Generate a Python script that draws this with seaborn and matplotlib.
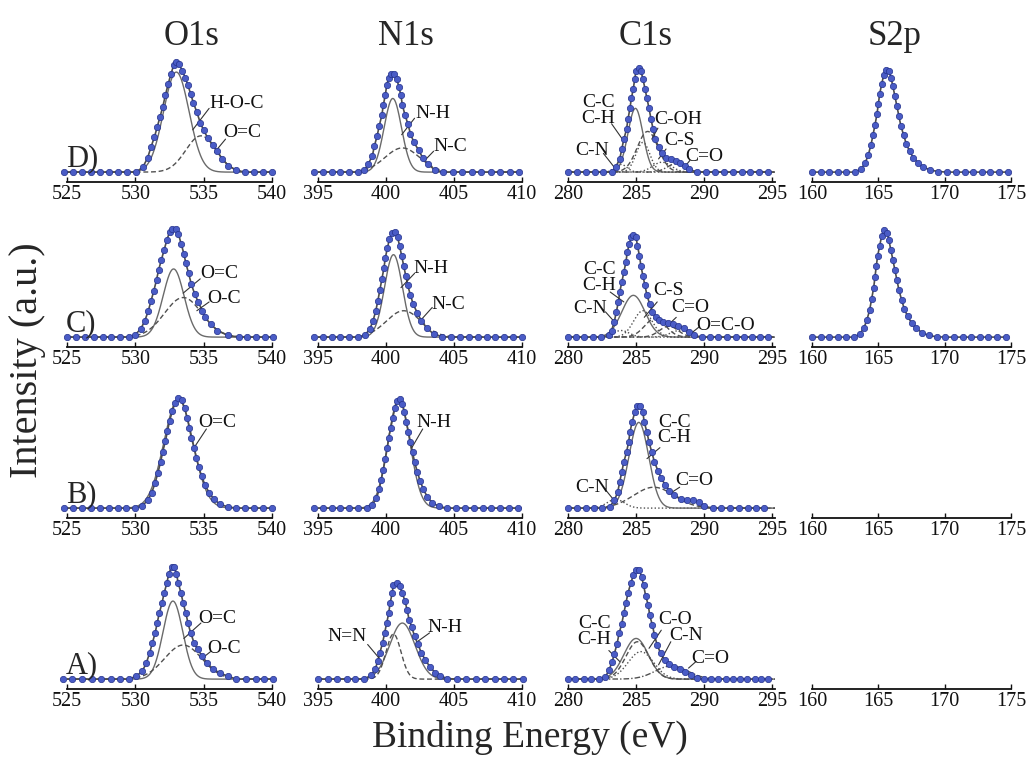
import numpy as np
import pandas as pd
import matplotlib
matplotlib.use("Agg")
import matplotlib.pyplot as plt
import seaborn as sns

# ------------------------------------------------------------------ data
COLUMNS = ["O1s", "N1s", "C1s", "S2p"]
ROWS = ["D)", "C)", "B)", "A)"]
XLIMS = {"O1s": (525, 540), "N1s": (395, 410), "C1s": (280, 295.2), "S2p": (160, 175)}
XTICKS = {"O1s": [525, 530, 535, 540], "N1s": [395, 400, 405, 410],
          "C1s": [280, 285, 290, 295], "S2p": [160, 165, 170, 175]}

# measured spectra (dots) : binding energy (eV) and normalised intensity
D_O1S_X = [524.8, 525.45, 526.1, 526.75, 527.4, 528.1, 528.75, 529.4, 530.05,
           530.55, 530.9, 531.15, 531.4, 531.6, 531.8, 532.0, 532.2, 532.4, 532.6, 532.8, 532.98,
           533.2, 533.45, 533.65, 533.85, 534.05, 534.25, 534.5, 534.75, 535.0, 535.3, 535.65,
           536.0, 536.35, 536.8, 537.4,
           538.05, 538.7, 539.35, 540.0]
D_O1S_Y = [0, 0, 0, 0, 0, 0, 0, 0, 0,
           0.045, 0.13, 0.23, 0.32, 0.41, 0.50, 0.59, 0.70, 0.80, 0.89, 0.97, 1.0,
           0.98, 0.92, 0.86, 0.79, 0.71, 0.63, 0.545, 0.45, 0.38, 0.31, 0.25,
           0.19, 0.12, 0.06, 0.015,
           0, 0, 0, 0]

D_N1S_X = [394.7, 395.35, 396.0, 396.65, 397.3, 397.95,
           398.4, 398.7, 399.0, 399.15, 399.35, 399.5, 399.7, 399.8, 399.95, 400.05, 400.2, 400.4,
           400.6, 400.8, 400.95, 401.1, 401.2, 401.4, 401.6, 401.8, 402.05, 402.4, 402.7, 403.1, 403.6,
           404.2, 404.9, 405.6, 406.3, 407.0, 407.7, 408.4, 409.1, 409.8]
D_N1S_Y = [0, 0, 0, 0, 0, 0,
           0.015, 0.075, 0.15, 0.24, 0.33, 0.42, 0.52, 0.61, 0.70, 0.79, 0.86, 0.89,
           0.89, 0.85, 0.77, 0.70, 0.61, 0.52, 0.44, 0.35, 0.27, 0.20, 0.13, 0.07, 0.02,
           0, 0, 0, 0, 0, 0, 0, 0, 0]

D_C1S_X = [280.0, 280.65, 281.3, 281.95, 282.6, 283.2,
           283.5, 283.8, 283.95, 284.1, 284.3, 284.4, 284.55, 284.65, 284.8, 284.9, 285.0, 285.2,
           285.35, 285.5, 285.65, 285.8, 285.95, 286.1, 286.25, 286.4, 286.65, 286.9, 287.2, 287.55,
           287.9, 288.2, 288.6, 288.9,
           289.5, 290.15, 290.8, 291.45, 292.1, 292.75, 293.4, 294.05, 294.7]
D_C1S_Y = [0, 0, 0, 0, 0, 0,
           0.045, 0.12, 0.21, 0.30, 0.39, 0.48, 0.58, 0.67, 0.76, 0.85, 0.92, 0.95,
           0.92, 0.85, 0.76, 0.67, 0.58, 0.48, 0.39, 0.30, 0.23, 0.17, 0.13, 0.115,
           0.105, 0.085, 0.055, 0.024,
           0, 0, 0, 0, 0, 0, 0, 0, 0]

D_S2P_X = [160.0, 160.65, 161.3, 161.95, 162.6, 163.25,
           163.7, 164.0, 164.25, 164.45, 164.6, 164.75, 164.9, 165.0, 165.1, 165.25, 165.4, 165.6,
           165.8, 165.95, 166.1, 166.25, 166.4, 166.55, 166.7, 166.9, 167.1, 167.35, 167.65, 168.0,
           168.4, 168.9, 169.5,
           170.2, 170.85, 171.5, 172.15, 172.8, 173.45, 174.1, 174.75]
D_S2P_Y = [0, 0, 0, 0, 0, 0,
           0.03, 0.08, 0.16, 0.25, 0.34, 0.43, 0.53, 0.62, 0.71, 0.80, 0.88, 0.93,
           0.92, 0.86, 0.78, 0.69, 0.60, 0.51, 0.42, 0.34, 0.26, 0.19, 0.13, 0.08,
           0.045, 0.02, 0.005,
           0, 0, 0, 0, 0, 0, 0, 0]

C_O1S_X = [525.0, 525.65, 526.3, 526.95, 527.6, 528.25, 528.9, 529.5,
           529.95, 530.4, 530.7, 530.95, 531.15, 531.35, 531.55, 531.7, 531.9, 532.1, 532.3, 532.5,
           532.7, 532.95, 533.15, 533.35, 533.55, 533.7, 533.9, 534.1, 534.35, 534.6, 534.9, 535.1,
           535.5, 536.0, 536.8,
           537.6, 538.2, 538.85, 539.5, 540.1]
C_O1S_Y = [0, 0, 0, 0, 0, 0, 0, 0,
           0.015, 0.076, 0.15, 0.24, 0.33, 0.42, 0.52, 0.61, 0.70, 0.79, 0.88, 0.955,
           0.985, 0.985, 0.94, 0.85, 0.76, 0.67, 0.58, 0.48, 0.39, 0.32, 0.24, 0.18,
           0.12, 0.06, 0.015,
           0, 0, 0, 0, 0]

C_N1S_X = [394.7, 395.35, 396.0, 396.65, 397.3, 397.95,
           398.45, 398.8, 399.05, 399.25, 399.4, 399.55, 399.7, 399.85, 399.95, 400.1, 400.25, 400.45,
           400.65, 400.85, 401.0, 401.15, 401.3, 401.45, 401.6, 401.8, 402.0, 402.3, 402.6, 403.0,
           403.5, 404.1,
           404.8, 405.45, 406.1, 406.75, 407.4, 408.05, 408.7, 409.35, 410.0]
C_N1S_Y = [0, 0, 0, 0, 0, 0,
           0.02, 0.07, 0.15, 0.24, 0.33, 0.43, 0.53, 0.63, 0.72, 0.81, 0.89, 0.95,
           0.96, 0.91, 0.83, 0.74, 0.65, 0.56, 0.47, 0.38, 0.30, 0.22, 0.15, 0.08,
           0.03, 0.005,
           0, 0, 0, 0, 0, 0, 0, 0, 0]

C_C1S_X = [280.0, 280.6, 281.2, 281.8, 282.4,
           283.0, 283.2, 283.4, 283.55, 283.7, 283.8, 283.95, 284.1, 284.25, 284.35, 284.5, 284.65,
           284.8, 285.0, 285.1, 285.25, 285.35, 285.5, 285.65, 285.8, 286.0, 286.2, 286.45, 286.7,
           287.0, 287.35, 287.7, 288.05, 288.5, 288.9, 289.25,
           289.85, 290.45, 291.05, 291.7, 292.3, 292.9, 293.5, 294.1, 294.7]
C_C1S_Y = [0, 0, 0, 0, 0,
           0.015, 0.06, 0.14, 0.23, 0.32, 0.41, 0.50, 0.59, 0.68, 0.77, 0.85, 0.91,
           0.93, 0.91, 0.83, 0.74, 0.65, 0.56, 0.47, 0.38, 0.30, 0.23, 0.18, 0.16,
           0.14, 0.13, 0.12, 0.105, 0.08, 0.05, 0.015,
           0, 0, 0, 0, 0, 0, 0, 0, 0]

C_S2P_X = [160.0, 160.65, 161.3, 161.95, 162.6, 163.2,
           163.6, 163.9, 164.15, 164.35, 164.5, 164.65, 164.75, 164.85, 164.95, 165.1, 165.25, 165.45,
           165.65, 165.8, 165.95, 166.1, 166.25, 166.4, 166.55, 166.75, 166.95, 167.2, 167.5, 167.85,
           168.3, 168.8, 169.4,
           170.05, 170.7, 171.35, 172.0, 172.65, 173.3, 173.95, 174.6]
C_S2P_Y = [0, 0, 0, 0, 0, 0,
           0.03, 0.08, 0.16, 0.25, 0.35, 0.45, 0.55, 0.65, 0.74, 0.83, 0.92, 0.97,
           0.95, 0.88, 0.79, 0.70, 0.61, 0.52, 0.43, 0.34, 0.26, 0.19, 0.13, 0.08,
           0.04, 0.015, 0.003,
           0, 0, 0, 0, 0, 0, 0, 0]

B_O1S_X = [524.8, 525.45, 526.1, 526.75, 527.4, 528.05, 528.7, 529.35, 530.0,
           530.5, 530.9, 531.2, 531.45, 531.65, 531.85, 532.0, 532.2, 532.35, 532.5, 532.7, 532.9,
           533.15, 533.4, 533.6, 533.8, 533.95, 534.1, 534.3, 534.45, 534.65, 534.85, 535.1, 535.4,
           535.75, 536.2, 536.8,
           537.4, 538.05, 538.7, 539.35, 540.0]
B_O1S_Y = [0, 0, 0, 0, 0, 0, 0, 0, 0,
           0.02, 0.07, 0.14, 0.23, 0.32, 0.42, 0.51, 0.61, 0.70, 0.79, 0.88, 0.96,
           1.0, 0.98, 0.91, 0.82, 0.73, 0.64, 0.55, 0.46, 0.37, 0.29, 0.21, 0.14,
           0.08, 0.035, 0.01,
           0, 0, 0, 0, 0]

B_N1S_X = [394.7, 395.35, 396.0, 396.65, 397.3, 397.95, 398.6,
           399.0, 399.3, 399.5, 399.65, 399.8, 399.95, 400.1, 400.2, 400.35, 400.5, 400.65, 400.8,
           401.0, 401.2, 401.35, 401.5, 401.65, 401.8, 401.95, 402.1, 402.3, 402.5, 402.75, 403.05,
           403.4, 403.9,
           404.5, 405.15, 405.8, 406.45, 407.1, 407.75, 408.4, 409.05, 409.7]
B_N1S_Y = [0, 0, 0, 0, 0, 0, 0,
           0.03, 0.09, 0.17, 0.26, 0.35, 0.45, 0.55, 0.64, 0.73, 0.82, 0.91, 0.97,
           0.99, 0.95, 0.87, 0.78, 0.69, 0.60, 0.51, 0.42, 0.33, 0.25, 0.17, 0.10,
           0.05, 0.015,
           0, 0, 0, 0, 0, 0, 0, 0, 0]

B_C1S_X = [280.0, 280.65, 281.3, 281.9, 282.5,
           283.05, 283.4, 283.65, 283.8, 283.95, 284.1, 284.3, 284.45, 284.55, 284.7, 284.9, 285.1,
           285.3, 285.5, 285.6, 285.8, 285.95, 286.15, 286.35, 286.6, 286.85, 287.15, 287.45, 287.8,
           288.3, 288.75, 289.2, 289.6, 290.0,
           290.65, 291.25, 291.9, 292.55, 293.2, 293.8, 294.4]
B_C1S_Y = [0, 0, 0, 0, 0,
           0.01, 0.07, 0.145, 0.24, 0.33, 0.42, 0.51, 0.60, 0.69, 0.78, 0.87, 0.93,
           0.93, 0.87, 0.78, 0.69, 0.60, 0.51, 0.42, 0.34, 0.27, 0.21, 0.16, 0.115,
           0.085, 0.07, 0.07, 0.055, 0.015,
           0, 0, 0, 0, 0, 0, 0]

A_O1S_X = [524.7, 525.4, 526.1, 526.8, 527.5, 528.2, 528.85, 529.5,
           530.05, 530.5, 530.8, 531.05, 531.25, 531.45, 531.6, 531.75, 531.95, 532.1, 532.3, 532.45,
           532.65, 532.85, 533.0, 533.15, 533.35, 533.5, 533.7, 533.85, 534.05, 534.3, 534.55, 534.9,
           535.25, 535.7, 536.2, 536.8,
           537.4, 538.1, 538.8, 539.45, 540.1]
A_O1S_Y = [0, 0, 0, 0, 0, 0, 0, 0,
           0.025, 0.07, 0.145, 0.24, 0.33, 0.42, 0.51, 0.60, 0.69, 0.78, 0.87, 0.96,
           1.02, 1.02, 0.96, 0.87, 0.78, 0.69, 0.60, 0.51, 0.42, 0.33, 0.27, 0.21,
           0.145, 0.09, 0.055, 0.025,
           0, 0, 0, 0, 0]

A_N1S_X = [395.0, 395.7, 396.4, 397.1, 397.7, 398.4,
           398.9, 399.2, 399.4, 399.55, 399.75, 399.9, 400.05, 400.2, 400.3, 400.45, 400.55, 400.8,
           401.0, 401.2, 401.4, 401.55, 401.7, 401.9, 402.1, 402.35, 402.6, 402.9, 403.25, 403.6,
           404.0, 404.5,
           405.2, 405.9, 406.6, 407.3, 408.0, 408.7, 409.35, 410.05]
A_N1S_Y = [0, 0, 0, 0, 0, 0,
           0.035, 0.09, 0.165, 0.24, 0.33, 0.42, 0.51, 0.60, 0.69, 0.78, 0.86, 0.875,
           0.845, 0.78, 0.71, 0.63, 0.54, 0.47, 0.39, 0.315, 0.24, 0.17, 0.11, 0.06,
           0.03, 0.005,
           0, 0, 0, 0, 0, 0, 0, 0]

A_C1S_X = [280.0, 280.55, 281.15, 281.7, 282.25,
           282.75, 283.0, 283.25, 283.4, 283.6, 283.75, 283.95, 284.1, 284.25, 284.4, 284.6, 284.8,
           285.0, 285.25, 285.4, 285.55, 285.7, 285.9, 286.0, 286.2, 286.35, 286.55, 286.8, 287.1,
           287.4, 287.8, 288.2, 288.6, 289.0, 289.5,
           290.0, 290.5, 291.05, 291.6, 292.1, 292.65, 293.15, 293.7, 294.2, 294.7]
A_C1S_Y = [0, 0, 0, 0, 0,
           0.02, 0.08, 0.16, 0.23, 0.32, 0.415, 0.505, 0.60, 0.69, 0.78, 0.87, 0.945,
           0.99, 0.99, 0.93, 0.855, 0.76, 0.67, 0.58, 0.49, 0.40, 0.31, 0.235, 0.17,
           0.135, 0.11, 0.09, 0.065, 0.035, 0.012,
           0, 0, 0, 0, 0, 0, 0, 0, 0, 0]

# fitted components : centre (eV), height, FWHM (eV)
D_O1S_CEN, D_O1S_AMP, D_O1S_FWHM = [533.0, 534.8], [0.91, 0.33], [2.2, 2.6]
D_N1S_CEN, D_N1S_AMP, D_N1S_FWHM = [400.5, 401.2], [0.67, 0.22], [1.5, 3.0]
D_C1S_CEN = [283.9, 284.95, 285.5, 285.85, 286.9, 288.0]
D_C1S_AMP = [0.07, 0.58, 0.27, 0.37, 0.09, 0.08]
D_C1S_FWHM = [1.0, 1.3, 1.2, 1.8, 1.6, 1.6]
C_O1S_CEN, C_O1S_AMP, C_O1S_FWHM = [532.8, 533.5], [0.62, 0.36], [1.8, 3.2]
C_N1S_CEN, C_N1S_AMP, C_N1S_FWHM = [400.55, 401.3], [0.75, 0.24], [1.55, 3.0]
C_C1S_CEN = [283.9, 284.8, 285.5, 286.4, 287.4, 288.2]
C_C1S_AMP = [0.06, 0.38, 0.24, 0.17, 0.10, 0.06]
C_C1S_FWHM = [1.4, 2.0, 1.6, 1.8, 1.6, 1.6]
B_O1S_CEN, B_O1S_AMP, B_O1S_FWHM = [533.15], [0.99], [2.5]
B_N1S_CEN, B_N1S_AMP, B_N1S_FWHM = [400.95], [0.99], [1.9]
B_C1S_CEN, B_C1S_AMP, B_C1S_FWHM = [283.5, 285.2, 286.3], [0.08, 0.78, 0.19], [1.5, 1.7, 3.5]
A_O1S_CEN, A_O1S_AMP, A_O1S_FWHM = [532.75, 533.5], [0.71, 0.31], [1.7, 3.2]
A_N1S_CEN, A_N1S_AMP, A_N1S_FWHM = [401.2, 400.55], [0.51, 0.41], [2.2, 1.3]
A_C1S_CEN, A_C1S_AMP, A_C1S_FWHM = [285.0, 285.1, 285.35, 287.6], [0.37, 0.34, 0.25, 0.12], [2.1, 2.0, 2.2, 2.8]

# ------------------------------------------------------------------ styles / layout
LS = {"-": "-", "--": (0, (3.5, 2.0)), ":": (0, (1.0, 1.6)), "-.": (0, (4, 1.5, 1, 1.5))}
COMP_STYLE = {
    "D_O1S": ["-", "--"], "D_N1S": ["-", "--"], "D_C1S": [":", "-", ":", "--", ":", "-."],
    "C_O1S": ["-", "--"], "C_N1S": ["-", "--"], "C_C1S": [":", "-", ":", "--", "--", ":"],
    "B_O1S": ["-"], "B_N1S": ["-"], "B_C1S": [":", "-", "--"],
    "A_O1S": ["-", "--"], "A_N1S": ["-", "--"], "A_C1S": ["-", "--", ":", "-."],
}
# (text, text x, text y, leader start x, y, leader end x, y)
LABELS = {
    "D_O1S": [("H-O-C", 537.4, 0.62, 535.4, 0.58, 534.2, 0.385),
              ("O=C", 537.8, 0.36, 536.6, 0.30, 535.8, 0.18)],
    "D_N1S": [("N-H", 403.45, 0.53, 402.1, 0.49, 401.15, 0.34),
              ("N-C", 404.75, 0.23, 403.5, 0.19, 402.8, 0.10)],
    "D_C1S": [("C-C\nC-H", 282.25, 0.56, 283.2, 0.44, 284.05, 0.29),
              ("C-N", 281.75, 0.20, 282.6, 0.17, 283.45, 0.036),
              ("C-OH", 288.1, 0.48, 286.6, 0.40, 286.15, 0.30),
              ("C-S", 288.2, 0.29, 287.2, 0.21, 286.65, 0.12),
              ("C=O", 290.0, 0.14, 288.95, 0.106, 288.65, 0.06)],
    "C_O1S": [("O=C", 536.15, 0.575, 534.75, 0.53, 533.5, 0.40),
              ("O-C", 536.5, 0.35, 535.4, 0.32, 534.5, 0.24)],
    "C_N1S": [("N-H", 403.3, 0.62, 402.1, 0.58, 401.1, 0.45),
              ("N-C", 404.6, 0.30, 403.4, 0.27, 402.6, 0.16)],
    "C_C1S": [("C-C\nC-H", 282.3, 0.545, 283.1, 0.41, 284.1, 0.32),
              ("C-N", 281.6, 0.26, 282.75, 0.23, 283.4, 0.14),
              ("C-S", 287.35, 0.42, 286.55, 0.32, 285.6, 0.18),
              ("C=O", 289.0, 0.27, 287.95, 0.18, 287.35, 0.11),
              ("O=C-O", 291.6, 0.106, 289.6, 0.09, 289.0, 0.03)],
    "B_O1S": [("O=C", 536.0, 0.78, 535.2, 0.72, 534.3, 0.55)],
    "B_N1S": [("N-H", 403.5, 0.78, 402.7, 0.72, 401.9, 0.55)],
    "B_C1S": [("C-C\nC-H", 287.8, 0.71, 286.75, 0.55, 285.8, 0.45),
              ("C-N", 281.75, 0.19, 282.8, 0.16, 283.35, 0.076),
              ("C=O", 289.25, 0.25, 288.2, 0.19, 287.45, 0.13)],
    "A_O1S": [("O=C", 536.0, 0.555, 534.8, 0.51, 533.55, 0.37),
              ("O-C", 536.5, 0.28, 535.5, 0.25, 534.9, 0.19)],
    "A_N1S": [("N-H", 404.35, 0.47, 403.2, 0.42, 402.35, 0.345),
              ("N=N", 397.1, 0.39, 398.65, 0.315, 399.5, 0.19)],
    "A_C1S": [("C-C\nC-H", 281.95, 0.43, 283.0, 0.26, 283.8, 0.16),
              ("C-O", 287.85, 0.545, 286.85, 0.445, 285.95, 0.28),
              ("C-N", 288.7, 0.40, 287.55, 0.34, 286.65, 0.13),
              ("C=O", 290.45, 0.19, 289.4, 0.16, 288.85, 0.10)],
}

PANELS = {
    ("D)", "O1s"): ("D_O1S", D_O1S_X, D_O1S_Y, D_O1S_CEN, D_O1S_AMP, D_O1S_FWHM),
    ("D)", "N1s"): ("D_N1S", D_N1S_X, D_N1S_Y, D_N1S_CEN, D_N1S_AMP, D_N1S_FWHM),
    ("D)", "C1s"): ("D_C1S", D_C1S_X, D_C1S_Y, D_C1S_CEN, D_C1S_AMP, D_C1S_FWHM),
    ("D)", "S2p"): ("D_S2P", D_S2P_X, D_S2P_Y, [], [], []),
    ("C)", "O1s"): ("C_O1S", C_O1S_X, C_O1S_Y, C_O1S_CEN, C_O1S_AMP, C_O1S_FWHM),
    ("C)", "N1s"): ("C_N1S", C_N1S_X, C_N1S_Y, C_N1S_CEN, C_N1S_AMP, C_N1S_FWHM),
    ("C)", "C1s"): ("C_C1S", C_C1S_X, C_C1S_Y, C_C1S_CEN, C_C1S_AMP, C_C1S_FWHM),
    ("C)", "S2p"): ("C_S2P", C_S2P_X, C_S2P_Y, [], [], []),
    ("B)", "O1s"): ("B_O1S", B_O1S_X, B_O1S_Y, B_O1S_CEN, B_O1S_AMP, B_O1S_FWHM),
    ("B)", "N1s"): ("B_N1S", B_N1S_X, B_N1S_Y, B_N1S_CEN, B_N1S_AMP, B_N1S_FWHM),
    ("B)", "C1s"): ("B_C1S", B_C1S_X, B_C1S_Y, B_C1S_CEN, B_C1S_AMP, B_C1S_FWHM),
    ("A)", "O1s"): ("A_O1S", A_O1S_X, A_O1S_Y, A_O1S_CEN, A_O1S_AMP, A_O1S_FWHM),
    ("A)", "N1s"): ("A_N1S", A_N1S_X, A_N1S_Y, A_N1S_CEN, A_N1S_AMP, A_N1S_FWHM),
    ("A)", "C1s"): ("A_C1S", A_C1S_X, A_C1S_Y, A_C1S_CEN, A_C1S_AMP, A_C1S_FWHM),
}

# ------------------------------------------------------------------ figure
sns.set_theme(style="white")
plt.rcParams["font.family"] = ["Liberation Serif", "DejaVu Serif"]

W, H = 1031, 759
fig = plt.figure(figsize=(W / 100, H / 100), dpi=100)
fig.patch.set_facecolor("white")

COL_LEFT = {"O1s": 67, "N1s": 318, "C1s": 568, "S2p": 812}
COL_W = {"O1s": 205, "N1s": 204, "C1s": 207, "S2p": 199}
ROW_SPINE = {"D)": 182, "C)": 347, "B)": 518, "A)": 689}
YMIN, YMAX = -0.09, 1.12
AX_H = 133
TITLE_X = {"O1s": 192, "N1s": 406, "C1s": 646, "S2p": 895}

for row in ROWS:
    for col in COLUMNS:
        ax = fig.add_axes([COL_LEFT[col] / W, 1 - ROW_SPINE[row] / H,
                           COL_W[col] / W, AX_H / H])
        ax.set_facecolor("none")
        xlim = XLIMS[col]
        key = (row, col)
        if key in PANELS:
            name, xs, ys, cen, amp, fw = PANELS[key]
            grid = np.linspace(xlim[0], xlim[1], 600)
            for c, a, w, st in zip(cen, amp, fw, COMP_STYLE.get(name, [])):
                g = a * np.exp(-4 * np.log(2) * (grid - c) ** 2 / w ** 2)
                colr = "#6a6a6a" if st == "-" else "#505050"
                ax.plot(grid, g, color=colr, lw=1.0, ls=LS[st], zorder=2)
            df = pd.DataFrame({"eV": xs, "I": ys})
            sns.lineplot(data=df, x="eV", y="I", ax=ax, color="#4d4d4d", lw=1.2,
                         estimator=None, sort=False, zorder=3)
            sns.scatterplot(data=df, x="eV", y="I", ax=ax, s=21, color="#4a5cc6",
                            edgecolor="#25338c", linewidth=0.5, zorder=5, clip_on=False)
            for (txt, tx, ty, x0, y0, x1, y1) in LABELS.get(name, []):
                ax.plot([x0, x1], [y0, y1], color="#333333", lw=0.8, zorder=4)
                ax.text(tx, ty, txt, ha="center", va="center", fontsize=14,
                        linespacing=0.9, color="#111111", zorder=6)
        ax.set_xlim(*xlim)
        ax.set_ylim(YMIN, YMAX)
        ax.set_xlabel("")
        ax.set_ylabel("")
        ax.set_xticks(XTICKS[col])
        ax.set_xticklabels([str(t) for t in XTICKS[col]])
        ax.set_yticks([])
        for s in ["top", "left", "right"]:
            ax.spines[s].set_visible(False)
        ax.spines["bottom"].set_linewidth(1.3)
        ax.spines["bottom"].set_color("#111111")
        ax.tick_params(axis="x", bottom=True, direction="in", length=3.5, width=1.0,
                       labelsize=14.5, pad=2, colors="#111111")
        ax.tick_params(axis="y", left=False, labelleft=False)

# column titles
for col in COLUMNS:
    fig.text(TITLE_X[col] / W, 1 - 45 / H, col, fontsize=25, ha="center", va="baseline")

# row labels
for row in ROWS:
    fig.text(66 / W, 1 - (ROW_SPINE[row] - 16) / H, row, fontsize=22, ha="left", va="baseline")

fig.text(28 / W, 1 - 360 / H, "Intensity (a.u.)", fontsize=29, rotation=90,
         ha="center", va="center")
fig.text(530 / W, 1 - 737 / H, "Binding Energy (eV)", fontsize=27, ha="center", va="center")

fig.savefig("out.png", dpi=100)
